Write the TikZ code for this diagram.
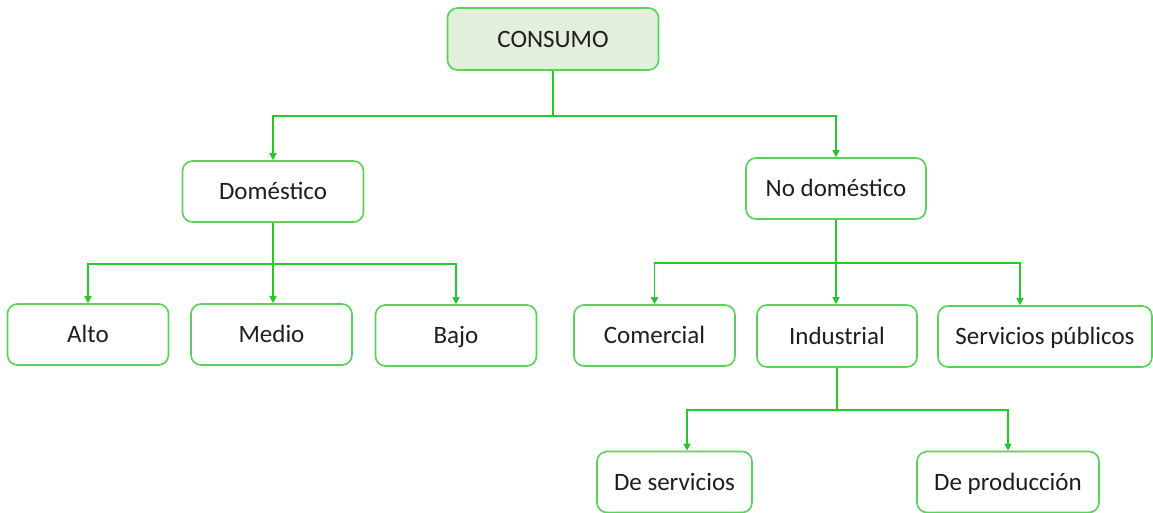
\documentclass[tikz,border=0pt]{standalone}
\usepackage{fontspec}
\setmainfont{Carlito}
\usetikzlibrary{arrows.meta}
\definecolor{boxgreen}{RGB}{85,212,85}
\definecolor{linegreen}{RGB}{40,200,40}
\definecolor{topfill}{RGB}{226,239,218}
\definecolor{txt}{RGB}{30,30,30}
\tikzset{
  box/.style={draw=boxgreen, line width=1.6pt, rounded corners=10pt, fill=white,
    minimum width=#1, minimum height=61pt, inner sep=0pt, text=txt,
    text height=18pt, text depth=2pt,
    font=\fontsize{25}{29}\selectfont},
  box/.default=161pt,
  conn/.style={draw=linegreen, line width=1.4pt},
  arr/.style={conn, -{Triangle[length=7pt,width=7pt]}}
}
\begin{document}
\begin{tikzpicture}[x=1pt,y=-1pt]
\useasboundingbox (0,0) rectangle (1153,512);
\node[box=211pt, fill=topfill, minimum height=62pt] (consumo) at (553,39) {CONSUMO};
\node[box=181pt] (dom) at (273,191.5) {Doméstico};
\node[box=180pt] (nodom) at (836,188.5) {No doméstico};
\node[box] (alto) at (88,334.5) {Alto};
\node[box] (medio) at (271.5,334.5) {Medio};
\node[box] (bajo) at (456,335.5) {Bajo};
\node[box] (com) at (654.5,335.5) {Comercial};
\node[box=160pt, minimum height=62pt] (ind) at (837,336) {Industrial};
\node[box=214pt] (serv) at (1045,336.5) {Servicios públicos};
\node[box=155pt] (deserv) at (674.5,482) {De servicios};
\node[box=182pt] (deprod) at (1008,482) {De producción};
% level 1
\coordinate (j0) at (553,116);
\draw[conn] (consumo.south) -- (j0);
\draw[arr] (j0) -| (dom.north);
\draw[arr] (j0) -| (nodom.north);
% domestico
\coordinate (j1) at (273,264);
\draw[conn] (dom.south) -- (j1);
\draw[arr] (j1) -| (alto.north);
\draw[arr] (j1) -- (j1 |- medio.north);
\draw[arr] (j1) -| (bajo.north);
% no domestico
\coordinate (j2) at (836,263);
\draw[conn] (nodom.south) -- (j2);
\draw[arr] (j2) -| (com.north);
\draw[arr] (j2) -- (j2 |- ind.north);
\coordinate (s1) at (1020,263);
\draw[arr] (j2) -- (s1) -- (s1 |- serv.north);
% industrial
\coordinate (j3) at (837,410);
\coordinate (d1) at (687,410);
\draw[conn] (ind.south) -- (j3);
\draw[arr] (j3) -- (d1) -- (d1 |- deserv.north);
\draw[arr] (j3) -| (deprod.north);
\end{tikzpicture}
\end{document}
